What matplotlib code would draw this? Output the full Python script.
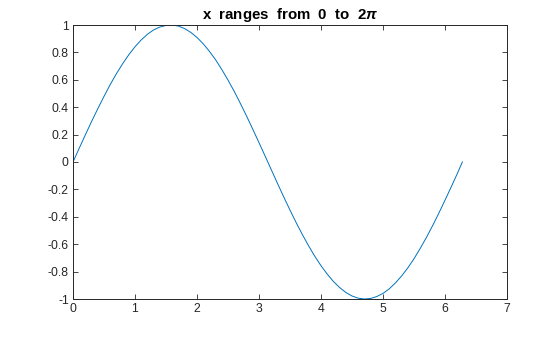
import matplotlib
matplotlib.use("Agg")
import matplotlib.pyplot as plt

x_vals = [0.0, 0.1, 0.2, 0.3, 0.4, 0.5, 0.6, 0.7, 0.8, 0.9,
          1.0, 1.1, 1.2, 1.3, 1.4, 1.5, 1.6, 1.7, 1.8, 1.9,
          2.0, 2.1, 2.2, 2.3, 2.4, 2.5, 2.6, 2.7, 2.8, 2.9,
          3.0, 3.1, 3.2, 3.3, 3.4, 3.5, 3.6, 3.7, 3.8, 3.9,
          4.0, 4.1, 4.2, 4.3, 4.4, 4.5, 4.6, 4.7, 4.8, 4.9,
          5.0, 5.1, 5.2, 5.3, 5.4, 5.5, 5.6, 5.7, 5.8, 5.9,
          6.0, 6.1, 6.2, 6.28]
y_vals = [0.000, 0.100, 0.199, 0.296, 0.389, 0.479, 0.565, 0.644, 0.717, 0.783,
          0.841, 0.891, 0.932, 0.964, 0.985, 0.997, 1.000, 0.992, 0.974, 0.946,
          0.909, 0.863, 0.808, 0.746, 0.675, 0.598, 0.516, 0.427, 0.335, 0.239,
          0.141, 0.042, -0.058, -0.158, -0.256, -0.351, -0.443, -0.530, -0.612, -0.688,
          -0.757, -0.818, -0.872, -0.916, -0.952, -0.978, -0.994, -1.000, -0.996, -0.982,
          -0.959, -0.926, -0.883, -0.832, -0.773, -0.706, -0.631, -0.551, -0.465, -0.374,
          -0.279, -0.182, -0.083, 0.000]

x_ticks = [0, 1, 2, 3, 4, 5, 6, 7]
x_ticklabels = ["0", "1", "2", "3", "4", "5", "6", "7"]
y_ticks = [-1, -0.8, -0.6, -0.4, -0.2, 0, 0.2, 0.4, 0.6, 0.8, 1]
y_ticklabels = ["-1", "-0.8", "-0.6", "-0.4", "-0.2", "0", "0.2", "0.4", "0.6", "0.8", "1"]
title_text = r"x  ranges  from  0  to  2$\pi$"

plt.rcParams["font.family"] = ["Liberation Sans", "DejaVu Sans"]
plt.rcParams["mathtext.fontset"] = "custom"
plt.rcParams["mathtext.it"] = "Liberation Sans:italic:bold"
plt.rcParams["mathtext.rm"] = "Liberation Sans:bold"

axis_color = "#262626"
fig = plt.figure(figsize=(5.6, 3.37), dpi=100)
ax = fig.add_axes([73 / 560, (337 - 299) / 337, 434 / 560, 274 / 337])
ax.plot(x_vals, y_vals, color="#0072BD", linewidth=0.7)
ax.set_xlim(0, 7)
ax.set_ylim(-1, 1)
ax.set_xticks(x_ticks)
ax.set_xticklabels(x_ticklabels)
ax.set_yticks(y_ticks)
ax.set_yticklabels(y_ticklabels)
ax.tick_params(direction="in", length=3.5, width=0.6, colors=axis_color,
               labelsize=8.8, top=True, right=True, pad=3)
for s in ax.spines.values():
    s.set_color(axis_color)
    s.set_linewidth(0.7)
ax.set_title(title_text, fontsize=10.8, fontweight="bold", color="black", pad=4)
fig.savefig("out.png", dpi=100)
